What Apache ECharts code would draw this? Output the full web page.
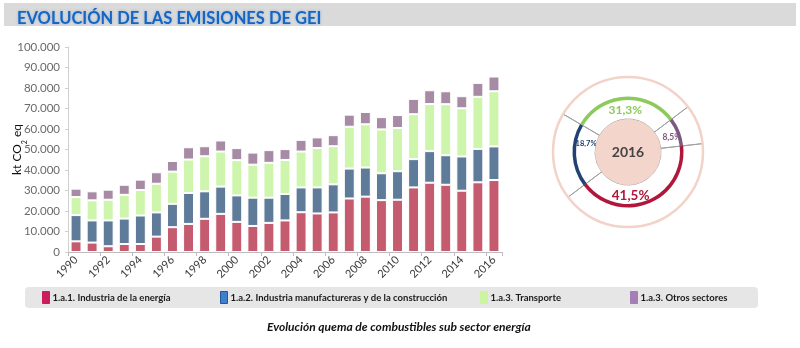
<!DOCTYPE html>
<html>
<head>
<meta charset="utf-8">
<script src="https://cdn.jsdelivr.net/npm/echarts@6/dist/echarts.min.js"></script>
<style>
  html, body { margin: 0; padding: 0; background: #ffffff; }
  #chart { width: 800px; height: 348px; }
</style>
</head>
<body>
<div id="chart"></div>
<script>
// Emisiones del sub sector energía (kt CO2 eq), por categoría y año
const years = ['1990','1991','1992','1993','1994','1995','1996','1997','1998','1999','2000','2001','2002','2003','2004','2005','2006','2007','2008','2009','2010','2011','2012','2013','2014','2015','2016'];
const industriaEnergia = [5200,4600,2800,3900,3900,7500,12100,13700,16200,18600,14700,12700,14200,15400,19400,18800,19300,26100,27000,25300,25500,31500,33800,32800,29900,34000,35100];
const industriaManufacturera = [12800,10800,12600,12400,13900,11800,11400,15100,13400,13300,12900,13800,12300,12900,12100,12700,13700,14600,14200,13100,13900,13800,15400,14400,16700,16300,16400];
const transporte = [8800,9800,10100,11600,12400,14000,15700,16300,17100,17100,17200,16100,17000,16600,17500,19200,18600,20400,21100,21400,21100,21900,23000,24900,23500,25400,26900];
const otrosSectores = [4100,4400,4900,4900,5100,5600,5200,6000,4900,5400,5900,5900,6200,5300,5700,5200,5400,5900,6000,6000,6300,7500,6700,6300,5900,6800,7200];

// Participación 2016 (%), en el orden en que se dibuja el anillo
const donutYear = '2016';
const donutNames = ['1.a.3. Otros sectores','1.a.1. Industria de la energía','1.a.2. Industria manufactureras y de la construcción','1.a.3. Transporte'];
const donutShares = [8.5, 41.5, 18.7, 31.3];

const seriesNames = ['1.a.1. Industria de la energía','1.a.2. Industria manufactureras y de la construcción','1.a.3. Transporte','1.a.3. Otros sectores'];
const seriesData = [industriaEnergia, industriaManufacturera, transporte, otrosSectores];
const barColors = ['#C55B6F','#5F7B9A','#CDF5AB','#A78BA5'];
const legendColors = ['#CB1D5E','#3F7FCB','#CCF5A2','#A77DB5'];
const legendLeft = [42, 220, 480, 630];

const ringColors = ['#7A5A80','#B0173A','#224272','#8DC95B'];
const ringLabelStyle = [
  { fontSize: 8.5, offset: [2, 2] },
  { fontSize: 13.5, offset: [-14, 2] },
  { fontSize: 7.5, offset: [3, -11] },
  { fontSize: 12, offset: [0, 3] }
];

const C = [628, 152];
const fmtThousands = v => String(v).replace(/\B(?=(\d{3})+(?!\d))/g, '.');
const fmtPct = v => v.toFixed(1).replace('.', ',') + '%';

const chart = echarts.init(document.getElementById('chart'), null, { renderer: 'canvas' });

const barSeries = seriesNames.map((name, i) => ({
  name: name,
  type: 'bar',
  stack: 'total',
  barCategoryGap: '32%',
  data: seriesData[i],
  itemStyle: { color: barColors[i], borderColor: '#ffffff', borderWidth: 1 },
  silent: true
}));

const legends = seriesNames.map((name, i) => ({
  left: legendLeft[i],
  top: 291,
  padding: 0,
  itemWidth: 7,
  itemHeight: 12,
  itemGap: 0,
  icon: 'rect',
  selectedMode: false,
  data: [{ name: name, itemStyle: { color: legendColors[i], borderColor: i === 1 ? '#24579A' : legendColors[i], borderWidth: 1 } }],
  textStyle: { fontFamily: 'Lato', fontWeight: 'bold', fontSize: 9.5, color: '#1a1a1a', padding: [0, 0, 0, -2] }
}));

const option = {
  backgroundColor: '#ffffff',
  animation: false,
  title: [
    {
      text: 'EVOLUCIÓN DE LAS EMISIONES DE GEI',
      left: 12, top: 5,
      textStyle: {
        fontFamily: 'Lato', fontWeight: 'bold', fontSize: 16.5, color: '#1566C4',
        textShadowColor: 'rgba(21,102,196,0.35)', textShadowBlur: 3
      }
    },
    {
      text: 'Evolución quema de combustibles sub sector energía',
      left: 262, top: 316,
      textStyle: { fontFamily: 'Lato', fontWeight: 'bold', fontStyle: 'italic', fontSize: 12, color: '#111111' }
    }
  ],
  legend: legends,
  graphic: [
    { type: 'rect', z: -10, shape: { x: 4, y: 3, width: 792, height: 23 }, style: { fill: '#DADADA' }, silent: true },
    { type: 'rect', z: -10, shape: { x: 25, y: 287, width: 733, height: 21, r: 4 }, style: { fill: '#E6E6E6' }, silent: true },
    { type: 'circle', z: 100, shape: { cx: C[0], cy: C[1], r: 75 }, style: { fill: null, stroke: '#F3D3C8', lineWidth: 2.5 }, silent: true },
    { type: 'circle', z: 100, shape: { cx: C[0], cy: C[1], r: 33 }, style: { fill: '#F3D5CB' }, silent: true },
    { type: 'text', z: 101, x: C[0], y: C[1], style: { text: donutYear, align: 'center', verticalAlign: 'middle', fontFamily: 'Lato', fontWeight: 'bold', fontSize: 14, fill: '#444444' }, silent: true }
  ],
  grid: { left: 68, right: 298, top: 47, bottom: 96, containLabel: false, outerBoundsMode: 'none' },
  xAxis: {
    type: 'category',
    data: years,
    axisLine: { lineStyle: { color: '#BDBDBD' } },
    axisTick: { show: true, length: 4, lineStyle: { color: '#BDBDBD' } },
    axisLabel: { interval: 1, rotate: 45, fontFamily: 'Lato', fontSize: 11, color: '#3a3a3a', margin: 6 }
  },
  yAxis: {
    type: 'value',
    min: 0, max: 100000, interval: 10000,
    name: 'kt CO{sub|2} eq',
    nameLocation: 'middle',
    nameRotate: 90,
    nameGap: 45,
    nameMoveOverlap: false,
    nameTextStyle: {
      fontFamily: 'Lato', fontSize: 12, color: '#111111',
      rich: { sub: { fontSize: 7, verticalAlign: 'bottom', padding: [0, 0, -5, 0], fontFamily: 'Lato', color: '#111111' } }
    },
    axisLine: { show: true, lineStyle: { color: '#D0D0D0' } },
    axisTick: { show: true, length: 3, lineStyle: { color: '#D0D0D0' } },
    splitLine: { show: false },
    axisLabel: { formatter: fmtThousands, fontFamily: 'Lato', fontSize: 11.5, color: '#6a6a6a', margin: 8 }
  },
  series: barSeries.concat([
    {
      // separadores radiales entre categorías
      type: 'pie', silent: true, center: C, radius: [33, 75], startAngle: 37, clockwise: true,
      label: { show: false }, labelLine: { show: false },
      itemStyle: { color: 'rgba(0,0,0,0)', borderColor: '#A0A0A0', borderWidth: 1 },
      data: donutShares.map((v, i) => ({ name: donutNames[i], value: v }))
    },
    {
      // anillo de color
      type: 'pie', silent: true, center: C, radius: [52, 55.5], startAngle: 37, clockwise: true,
      label: { show: false }, labelLine: { show: false },
      data: donutShares.map((v, i) => ({ name: donutNames[i], value: v, itemStyle: { color: ringColors[i] } }))
    },
    {
      // etiquetas de porcentaje
      type: 'pie', silent: true, center: C, radius: [32, 52], startAngle: 37, clockwise: true,
      itemStyle: { color: 'rgba(0,0,0,0)' }, labelLine: { show: false },
      data: donutShares.map((v, i) => ({
        name: donutNames[i], value: v,
        label: {
          show: true, position: 'inside', formatter: fmtPct(v),
          fontFamily: 'Lato', fontWeight: 'bold',
          fontSize: ringLabelStyle[i].fontSize, offset: ringLabelStyle[i].offset,
          color: ringColors[i]
        }
      }))
    }
  ])
};

chart.setOption(option);
</script>
</body>
</html>
